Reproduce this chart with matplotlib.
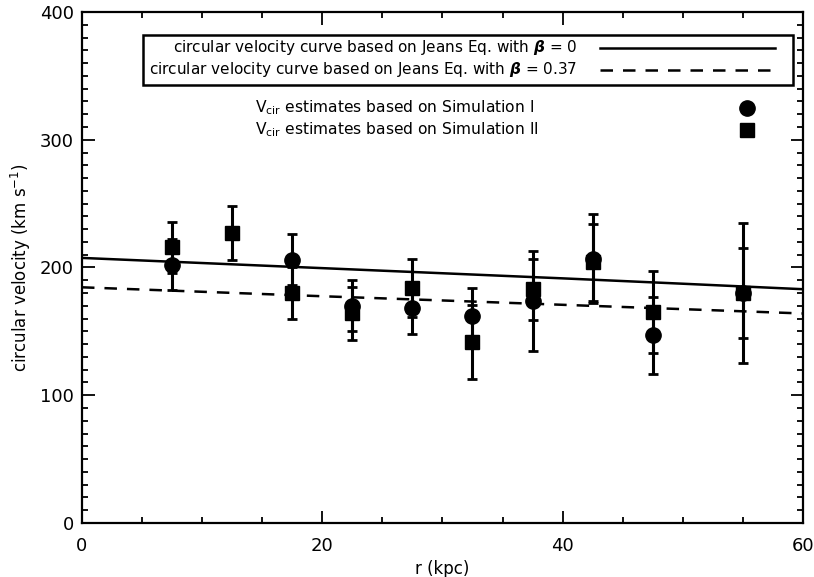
import numpy as np
import matplotlib.pyplot as plt
from matplotlib.ticker import MultipleLocator
from matplotlib.patches import Rectangle

# Jeans-equation circular velocity curves
r_curve = [0, 10, 20, 30, 40, 50, 60]
v_beta0 = [207.5, 203.5, 199.5, 195.5, 191.5, 187.3, 183.0]
v_beta037 = [184.5, 181.0, 177.5, 174.2, 170.8, 167.4, 164.0]

# Simulation I estimates (circles)
r_sim1 = [7.5, 17.5, 22.5, 27.5, 32.5, 37.5, 42.5, 47.5, 55.0]
v_sim1 = [202, 206, 170, 168, 162, 174, 207, 147, 180]
e_sim1 = [20, 20, 20, 20, 22, 39, 35, 30, 55]

# Simulation II estimates (squares)
r_sim2 = [7.5, 12.5, 17.5, 22.5, 27.5, 32.5, 37.5, 42.5, 47.5, 55.0]
v_sim2 = [216, 227, 180, 164, 184, 142, 183, 204, 165, 180]
e_sim2 = [20, 21, 20, 21, 23, 29, 24, 30, 32, 35]

fig = plt.figure(figsize=(8.14, 5.77), dpi=100)
ax = fig.add_axes([0.1007, 0.0936, 0.8857, 0.8856])

ax.plot(r_curve, v_beta0, color='black', lw=1.8)
ax.plot(r_curve, v_beta037, color='black', lw=1.8, dashes=(5, 4))

eb = dict(ls='none', color='black', ecolor='black', elinewidth=2.2,
          capsize=3.6, capthick=2.0)
ax.errorbar(r_sim1, v_sim1, yerr=e_sim1, marker='o', ms=11, **eb)
ax.errorbar(r_sim2, v_sim2, yerr=e_sim2, marker='s', ms=9.5, **eb)

ax.set_xlim(0, 60)
ax.set_ylim(0, 400)
ax.xaxis.set_major_locator(MultipleLocator(20))
ax.xaxis.set_minor_locator(MultipleLocator(5))
ax.yaxis.set_major_locator(MultipleLocator(100))
ax.yaxis.set_minor_locator(MultipleLocator(10))
ax.tick_params(which='both', direction='in', top=True, right=True,
               width=1.3, labelsize=13)
ax.tick_params(axis='x', pad=10)
ax.tick_params(axis='y', pad=6)
ax.tick_params(which='major', length=9)
ax.tick_params(which='minor', length=4.5)
for s in ax.spines.values():
    s.set_linewidth(1.6)

ax.set_xlabel('r (kpc)', fontsize=12, labelpad=4)
ax.set_ylabel(r'circular velocity (km s$^{-1}$)', fontsize=12, labelpad=5)

# boxed key for the two curves
ax.add_patch(Rectangle((0.0846, 0.857), 0.9014, 0.098, transform=ax.transAxes,
                       fill=False, lw=1.8, ec='black', zorder=5))
fs = 11
ax.text(0.6865, 0.9296, r'circular velocity curve based on Jeans Eq. with $\boldsymbol{\beta}$ = 0',
        transform=ax.transAxes, ha='right', va='center', fontsize=fs)
ax.text(0.6865, 0.8865, r'circular velocity curve based on Jeans Eq. with $\boldsymbol{\beta}$ = 0.37',
        transform=ax.transAxes, ha='right', va='center', fontsize=fs)
ax.plot([0.718, 0.961], [0.9296, 0.9296], transform=ax.transAxes,
        color='black', lw=1.8)
ax.plot([0.718, 0.961], [0.8865, 0.8865], transform=ax.transAxes,
        color='black', lw=1.8, dashes=(5, 4))

# key for the simulation points
ax.text(0.240, 0.812, r'V$_{\mathrm{cir}}$ estimates based on Simulation I',
        transform=ax.transAxes, ha='left', va='center', fontsize=11.2)
ax.text(0.240, 0.769, r'V$_{\mathrm{cir}}$ estimates based on Simulation II',
        transform=ax.transAxes, ha='left', va='center', fontsize=11.2)
ax.plot([0.922], [0.812], transform=ax.transAxes, marker='o', ms=11,
        color='black', ls='none')
ax.plot([0.922], [0.769], transform=ax.transAxes, marker='s', ms=9.5,
        color='black', ls='none')

fig.savefig('out.png', dpi=100)
